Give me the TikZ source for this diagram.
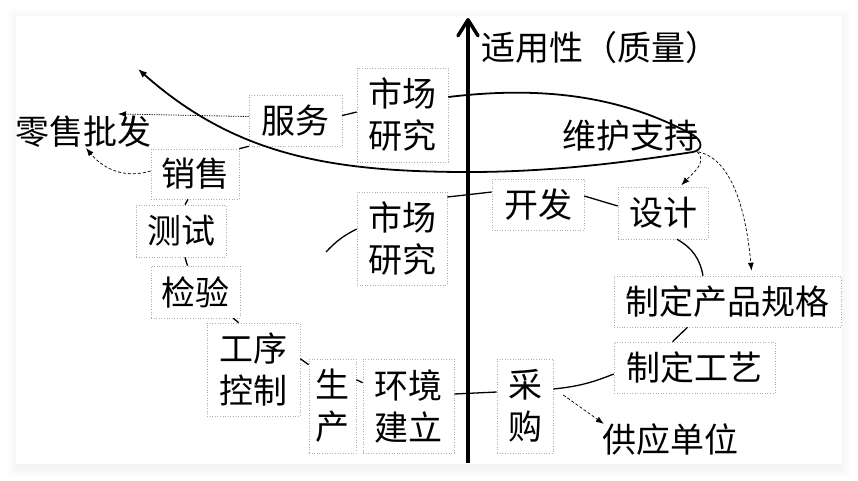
\documentclass[tikz,border=0pt]{standalone}
\usepackage{fontspec}
\newfontfamily\cjkfont{Noto Sans CJK SC}
\usetikzlibrary{arrows.meta}
\begin{document}
\begin{tikzpicture}[x=1pt,y=-1pt,
  box/.style={draw=gray!65, dotted, line width=0.6pt, inner sep=0pt, align=center,
    font=\cjkfont\fontsize{34}{42}\selectfont},
  lbl/.style={inner sep=0pt, font=\cjkfont\fontsize{34}{42}\selectfont},
  conn/.style={line width=1.3pt},
  spiral/.style={line width=1.8pt, -{Latex[length=9pt,width=7pt]}},
  dsh/.style={line width=0.7pt, dash pattern=on 3pt off 2pt, -{Latex[length=8pt,width=6pt]}},
  dtt/.style={line width=0.8pt, dash pattern=on 1.2pt off 1.2pt, -{Latex[length=8pt,width=6pt]}},
  axis/.style={line width=3.5pt, -{Straight Barb[length=16pt,width=20pt,round]}}
]
\useasboundingbox (0,0) rectangle (858,480);
\fill[white] (0,0) rectangle (858,480);
\foreach \i in {1,...,10} {
  \fill[black, opacity=0.005] (17-\i,19-\i) rectangle (841+\i,468+\i);
}
\fill[white] (16,16) rectangle (842,464);

% boxes
\node[box, minimum width=93pt, minimum height=51pt] (sv) at (295.5,120.5) {服务};
\node[box, minimum width=91pt, minimum height=94pt] (mr1) at (402.5,115) {市场\\研究};
\node[box, minimum width=88pt, minimum height=50pt] (xs) at (195,174) {销售};
\node[box, minimum width=90pt, minimum height=52pt] (cs) at (181,231) {测试};
\node[box, minimum width=89pt, minimum height=52pt] (jy) at (195.5,292) {检验};
\node[box, minimum width=93pt, minimum height=93pt] (gx) at (253.5,369.5) {工序\\控制};
\node[box, minimum width=47pt, minimum height=94pt] (sc) at (332.5,406) {生\\产};
\node[box, minimum width=91pt, minimum height=94pt] (hj) at (408.5,406) {环境\\建立};
\node[box, minimum width=56pt, minimum height=94pt] (cg) at (525,406) {采\\购};
\node[box, minimum width=161pt, minimum height=51pt] (gy) at (694.5,367.5) {制定工艺};
\node[box, minimum width=227pt, minimum height=51pt] (gg) at (727.5,301.5) {制定产品规格};
\node[box, minimum width=90pt, minimum height=52pt] (sj) at (663,213) {设计};
\node[box, minimum width=92pt, minimum height=51pt] (kf) at (538,204.5) {开发};
\node[box, minimum width=90pt, minimum height=93pt] (mr2) at (402,238.5) {市场\\研究};

% free labels
\node[lbl] (ls) at (83,132) {零售批发};
\node[lbl] (wh) at (630,136) {维护支持};
\node[lbl] (gyd) at (670,440) {供应单位};
\node[lbl] (axl) at (600,48) {适用性（质量）};

% axis
\coordinate (axb) at (468,463);
\coordinate (axt) at (468,18);
\draw[axis] (axb) -- (axt);

% spiral
\coordinate (sp) at (138,69);
\draw[spiral] ([yshift=18pt]mr1.east) .. controls (540,86) and (620,95) .. (693,135)
  .. controls (703,141) and (703,150) .. (693,152)
  .. controls (640,160) and (560,172) .. (469,172)
  .. controls (330,172) and (235,155) .. (sp);

% solid connectors
\draw[conn] ([yshift=5pt]sv.east) -- ([yshift=3pt]mr1.west);
\draw[conn] (xs.north east) -- (sv.south west);
\draw[conn] ([xshift=4pt]cs.north) -- ([xshift=-7pt]xs.south);
\draw[conn] ([xshift=4pt]cs.south) -- ([xshift=-8pt]jy.north);
\draw[conn] ([xshift=-7pt]jy.south east) -- ([xshift=32pt]gx.north west);
\draw[conn] ([yshift=-36pt]gx.north east) -- ([yshift=-6pt]sc.north west);
\draw[conn] ([yshift=-21pt]sc.north east) -- ([yshift=-24pt]hj.north west);
\draw[conn] ([yshift=12pt]hj.east) -- ([yshift=14pt]cg.west);
\draw[conn] ([yshift=17pt]cg.east) to[bend right=8] ([yshift=-6.5pt]gy.west);
\draw[conn] ([xshift=-22pt]gy.north) -- ([xshift=-40pt]gg.south);
\draw[conn] ([xshift=14pt]sj.south) to[bend left=25] ([xshift=-24.5pt]gg.north);
\draw[conn] ([yshift=8.5pt]kf.east) -- ([yshift=7pt]sj.west);
\draw[conn] ([yshift=41.5pt]mr2.east) -- ([yshift=12.5pt]kf.west);
\coordinate (mrin) at (326,252);
\draw[conn] (mrin) to[bend left=10] ([yshift=9.5pt]mr2.west);

% dashed / dotted arrows
\draw[dtt] ([yshift=4pt]sv.west) -- ([xshift=35pt,yshift=2pt]ls.north);
\draw[dsh] ([yshift=3pt]xs.west) .. controls (120,180) and (100,165) .. ([xshift=3pt]ls.south);
\draw[dsh, shorten >=2pt] ([xshift=-1pt]wh.south east) .. controls (708,162) and (692,174) .. ([xshift=17pt]sj.north);
\draw[dsh, shorten >=5pt] (wh.south east) .. controls (728,158) and (745,200) .. ([xshift=24.5pt]gg.north);
\draw[dsh] ([xshift=10pt,yshift=11pt]cg.east) -- ([xshift=2pt]gyd.north west);
\end{tikzpicture}
\end{document}
